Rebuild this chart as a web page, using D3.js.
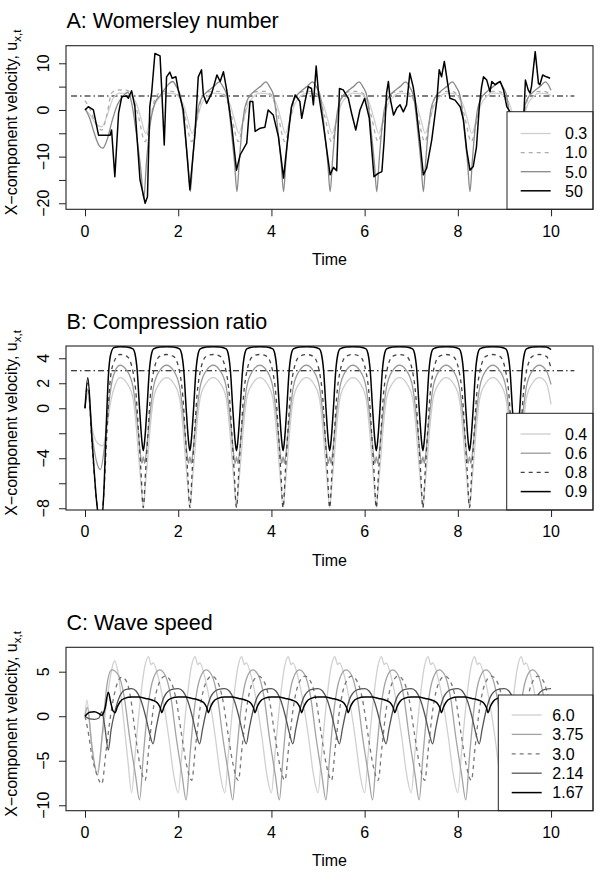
<!DOCTYPE html>
<html>
<head>
<meta charset="utf-8">
<script src="https://cdn.jsdelivr.net/npm/d3@7"></script>
<style>
body { margin: 0; background: #fff; }
svg text { font-family: "Liberation Sans", Arial, Helvetica, sans-serif; fill: #000; }
</style>
</head>
<body>
<div id="chart"></div>
<script>
// shared
var xTicks = [0, 2, 4, 6, 8, 10];
var refTimes = [-0.3, 10.5];
var refLevel = 3;

// A: Womersley number
var aLabels = ["0.3", "1.0", "5.0", "50"];
var aTicks = [-20, -15, -10, -5, 0, 5, 10];
var aTickLabels = [-20, -10, 0, 10];
var a03 = [[0,0.3],[0.12,-1.2],[0.25,-3.2],[0.36,-3.6],[0.48,-1.0],[0.6,2.4],[0.75,3.6],[0.9,3.5],
  [1.1,1.5],[1.2,-1.8],[1.3,-5.0],[1.4,-2.0],[1.5,1.2],[1.62,2.9],[1.75,3.6],[1.9,3.5],
  [2.1,1.5],[2.2,-1.8],[2.3,-5.0],[2.4,-2.0],[2.5,1.2],[2.62,2.9],[2.75,3.6],[2.9,3.5],
  [3.1,1.5],[3.2,-1.8],[3.3,-5.0],[3.4,-2.0],[3.5,1.2],[3.62,2.9],[3.75,3.6],[3.9,3.5],
  [4.1,1.5],[4.2,-1.8],[4.3,-5.0],[4.4,-2.0],[4.5,1.2],[4.62,2.9],[4.75,3.6],[4.9,3.5],
  [5.1,1.5],[5.2,-1.8],[5.3,-5.0],[5.4,-2.0],[5.5,1.2],[5.62,2.9],[5.75,3.6],[5.9,3.5],
  [6.1,1.5],[6.2,-1.8],[6.3,-5.0],[6.4,-2.0],[6.5,1.2],[6.62,2.9],[6.75,3.6],[6.9,3.5],
  [7.1,1.5],[7.2,-1.8],[7.3,-5.0],[7.4,-2.0],[7.5,1.2],[7.62,2.9],[7.75,3.6],[7.9,3.5],
  [8.1,1.5],[8.2,-1.8],[8.3,-5.0],[8.4,-2.0],[8.5,1.2],[8.62,2.9],[8.75,3.6],[8.9,3.5],
  [9.1,1.5],[9.2,-1.8],[9.3,-5.0],[9.4,-2.0],[9.5,1.2],[9.62,2.9],[9.75,3.6],[9.9,3.5],[10,3.2]];
var a10 = [[0,2.0],[0.1,0.3],[0.22,-2.6],[0.36,-4.3],[0.47,-1.0],[0.57,3.6],[0.7,4.3],[0.9,4.2],[1.0,3.4],
  [1.14,-1.2],[1.29,-6.8],[1.4,-2.4],[1.5,2.4],[1.65,3.9],[1.85,4.0],[2.0,3.2],
  [2.14,-1.2],[2.29,-6.8],[2.4,-2.4],[2.5,2.4],[2.65,3.9],[2.85,4.0],[3.0,3.2],
  [3.14,-1.2],[3.29,-6.8],[3.4,-2.4],[3.5,2.4],[3.65,3.9],[3.85,4.0],[4.0,3.2],
  [4.14,-1.2],[4.29,-6.8],[4.4,-2.4],[4.5,2.4],[4.65,3.9],[4.85,4.0],[5.0,3.2],
  [5.14,-1.2],[5.29,-6.8],[5.4,-2.4],[5.5,2.4],[5.65,3.9],[5.85,4.0],[6.0,3.2],
  [6.14,-1.2],[6.29,-6.8],[6.4,-2.4],[6.5,2.4],[6.65,3.9],[6.85,4.0],[7.0,3.2],
  [7.14,-1.2],[7.29,-6.8],[7.4,-2.4],[7.5,2.4],[7.65,3.9],[7.85,4.0],[8.0,3.2],
  [8.14,-1.2],[8.29,-6.8],[8.4,-2.4],[8.5,2.4],[8.65,3.9],[8.85,4.0],[9.0,3.2],
  [9.14,-1.2],[9.29,-6.8],[9.4,-2.4],[9.5,2.4],[9.65,3.9],[9.85,4.0],[10.0,3.2]];
var a5 = [[0,0.3],[0.1,-1.8],[0.2,-5.0],[0.3,-7.6],[0.38,-8.2],[0.48,-6.2],[0.58,-2.4],[0.7,1.2],[0.82,3.0],[0.92,3.8],
  [1.0,1.5],[1.1,-5.0],[1.2,-13.0],[1.26,-19.0],[1.32,-11.0],[1.4,-3.0],[1.5,1.5],[1.62,3.2],[1.75,5.0],[1.88,6.1],[1.96,5.0],
  [2.05,2.9],[2.15,-5.5],[2.21,-11.5],[2.26,-17.5],[2.31,-11.0],[2.36,-5.0],[2.42,0],[2.5,2.5],[2.61,3.8],[2.76,5.0],[2.88,6.0],[2.96,5.0],
  [3.05,2.9],[3.15,-5.5],[3.21,-11.5],[3.26,-17.5],[3.31,-11.0],[3.36,-5.0],[3.42,0],[3.5,2.5],[3.61,3.8],[3.76,5.0],[3.88,6.0],[3.96,5.0],
  [4.05,2.9],[4.15,-5.5],[4.21,-11.5],[4.26,-17.5],[4.31,-11.0],[4.36,-5.0],[4.42,0],[4.5,2.5],[4.61,3.8],[4.76,5.0],[4.88,6.0],[4.96,5.0],
  [5.05,2.9],[5.15,-5.5],[5.21,-11.5],[5.26,-17.5],[5.31,-11.0],[5.36,-5.0],[5.42,0],[5.5,2.5],[5.61,3.8],[5.76,5.0],[5.88,6.0],[5.96,5.0],
  [6.05,2.9],[6.15,-5.5],[6.21,-11.5],[6.26,-17.5],[6.31,-11.0],[6.36,-5.0],[6.42,0],[6.5,2.5],[6.61,3.8],[6.76,5.0],[6.88,6.0],[6.96,5.0],
  [7.05,2.9],[7.15,-5.5],[7.21,-11.5],[7.26,-17.5],[7.31,-11.0],[7.36,-5.0],[7.42,0],[7.5,2.5],[7.61,3.8],[7.76,5.0],[7.88,6.0],[7.96,5.0],
  [8.05,2.9],[8.15,-5.5],[8.21,-11.5],[8.26,-17.5],[8.31,-11.0],[8.36,-5.0],[8.42,0],[8.5,2.5],[8.61,3.8],[8.76,5.0],[8.88,6.0],[8.96,5.0],
  [9.05,2.9],[9.15,-5.5],[9.21,-11.5],[9.26,-17.5],[9.31,-11.0],[9.36,-5.0],[9.42,0],[9.5,2.5],[9.61,3.8],[9.76,5.0],[9.88,6.0],[10,4.2]];
var a50 = [[0,0],[0.07,0.7],[0.18,0],[0.29,-5.4],[0.54,-5.4],[0.57,-4.3],[0.64,-14.3],[0.72,-0.7],[0.79,2.9],[0.89,3],[0.93,2.5],
  [1.0,4.1],[1.07,0.7],[1.18,-15],[1.29,-20],[1.34,-18.6],[1.39,0.7],[1.43,3.7],[1.5,12.1],[1.61,11.6],[1.65,3.6],[1.7,-7.5],
  [1.75,7.1],[1.82,8.1],[1.87,6.8],[1.95,7.1],[2.0,4.3],[2.11,0],[2.25,-17.1],[2.36,-5],[2.43,7.1],[2.5,8.6],[2.54,3.2],
  [2.61,1.4],[2.72,3.6],[2.83,7.5],[2.9,6.1],[2.97,8.2],[3.04,4.3],[3.15,-3.6],[3.25,-12.9],[3.33,-9.6],[3.47,-7.1],[3.54,1.8],
  [3.6,1.8],[3.65,-4.6],[3.76,-3.9],[3.86,-3.7],[3.93,0],[4.04,-1.1],[4.15,-5.7],[4.26,-14.6],[4.33,-7.9],[4.43,0.7],[4.51,3.2],
  [4.61,1.8],[4.65,-1.8],[4.72,1.8],[4.79,5],[4.86,4.6],[4.9,1.1],[4.96,9.4],[5.01,3.6],[5.11,-2.9],[5.26,-13.9],[5.33,-12.3],
  [5.4,-13],[5.46,4.6],[5.54,4.3],[5.65,2.5],[5.72,-0.7],[5.81,-4.3],[5.9,0],[6.0,2.5],[6.1,-1.8],[6.2,-14.3],[6.29,-13.6],
  [6.37,-13.2],[6.42,-6.4],[6.47,3.6],[6.51,6.1],[6.54,2.9],[6.62,-1.1],[6.69,0.4],[6.76,1.1],[6.83,-0.4],[6.9,1.1],[6.97,7.9],
  [7.04,5],[7.08,2.5],[7.19,-7.1],[7.26,-13.9],[7.33,-12.5],[7.44,-6.4],[7.55,2.1],[7.6,8.6],[7.65,7.1],[7.71,10.4],[7.76,7.1],
  [7.83,2.5],[7.94,2.1],[8.05,0.7],[8.12,-2.1],[8.19,-8.6],[8.26,-12.9],[8.33,-12.1],[8.4,-7.9],[8.46,0.7],[8.51,5],[8.55,7.1],
  [8.62,6.4],[8.69,3.9],[8.73,6.1],[8.8,5.4],[8.91,6.1],[8.98,4.3],[9.05,0.7],[9.12,-0.4],[9.2,-6],[9.26,-13],[9.33,-8],
  [9.42,-0.4],[9.45,6.4],[9.51,4.3],[9.55,3.6],[9.58,5],[9.66,12.5],[9.73,5.7],[9.76,5.4],[9.82,7.5],[9.9,7.1],[9.98,6.8]];

// B: Compression ratio
var bLabels = ["0.4", "0.6", "0.8", "0.9"];
var bTicks = [-8, -6, -4, -2, 0, 2, 4];
var bTickLabels = [-8, -4, 0, 2, 4];
var b04 = [[0,0],[0.06,1.2],[0.15,-1.5],[0.27,-2.8],[0.38,-3.0],[0.47,-1.5],[0.55,0.5],[0.65,1.9],[0.75,2.45],[0.9,2.0],
  [1.03,0.8],[1.1,-1.5],[1.15,-3.8],[1.2,-6.0],[1.25,-7.95],[1.3,-6.0],[1.35,-3.8],[1.4,-1.5],[1.47,0.8],[1.6,2.0],[1.75,2.45],[1.9,2.0],
  [2.03,0.8],[2.1,-1.5],[2.15,-3.8],[2.2,-6.0],[2.25,-7.95],[2.3,-6.0],[2.35,-3.8],[2.4,-1.5],[2.47,0.8],[2.6,2.0],[2.75,2.45],[2.9,2.0],
  [3.03,0.8],[3.1,-1.5],[3.15,-3.8],[3.2,-6.0],[3.25,-7.95],[3.3,-6.0],[3.35,-3.8],[3.4,-1.5],[3.47,0.8],[3.6,2.0],[3.75,2.45],[3.9,2.0],
  [4.03,0.8],[4.1,-1.5],[4.15,-3.8],[4.2,-6.0],[4.25,-7.95],[4.3,-6.0],[4.35,-3.8],[4.4,-1.5],[4.47,0.8],[4.6,2.0],[4.75,2.45],[4.9,2.0],
  [5.03,0.8],[5.1,-1.5],[5.15,-3.8],[5.2,-6.0],[5.25,-7.95],[5.3,-6.0],[5.35,-3.8],[5.4,-1.5],[5.47,0.8],[5.6,2.0],[5.75,2.45],[5.9,2.0],
  [6.03,0.8],[6.1,-1.5],[6.15,-3.8],[6.2,-6.0],[6.25,-7.95],[6.3,-6.0],[6.35,-3.8],[6.4,-1.5],[6.47,0.8],[6.6,2.0],[6.75,2.45],[6.9,2.0],
  [7.03,0.8],[7.1,-1.5],[7.15,-3.8],[7.2,-6.0],[7.25,-7.95],[7.3,-6.0],[7.35,-3.8],[7.4,-1.5],[7.47,0.8],[7.6,2.0],[7.75,2.45],[7.9,2.0],
  [8.03,0.8],[8.1,-1.5],[8.15,-3.8],[8.2,-6.0],[8.25,-7.95],[8.3,-6.0],[8.35,-3.8],[8.4,-1.5],[8.47,0.8],[8.6,2.0],[8.75,2.45],[8.9,2.0],
  [9.03,0.8],[9.1,-1.5],[9.15,-3.8],[9.2,-6.0],[9.25,-7.95],[9.3,-6.0],[9.35,-3.8],[9.4,-1.5],[9.47,0.8],[9.6,2.0],[9.75,2.45],[9.9,2.0],[10,0.3]];
var b06 = [[0,0],[0.06,1.5],[0.15,-2.0],[0.25,-4.3],[0.33,-4.9],[0.42,-3.0],[0.5,0],[0.6,2.5],[0.75,3.44],[0.9,3.0],
  [1.03,1.7],[1.1,-0.3],[1.15,-2.2],[1.2,-4.0],[1.22,-4.4],[1.25,-3.9],[1.28,-4.4],[1.3,-4.0],[1.35,-2.2],[1.4,-0.3],[1.47,1.7],[1.6,3.0],[1.75,3.44],[1.9,3.0],
  [2.03,1.7],[2.1,-0.3],[2.15,-2.2],[2.2,-4.0],[2.22,-4.4],[2.25,-3.9],[2.28,-4.4],[2.3,-4.0],[2.35,-2.2],[2.4,-0.3],[2.47,1.7],[2.6,3.0],[2.75,3.44],[2.9,3.0],
  [3.03,1.7],[3.1,-0.3],[3.15,-2.2],[3.2,-4.0],[3.22,-4.4],[3.25,-3.9],[3.28,-4.4],[3.3,-4.0],[3.35,-2.2],[3.4,-0.3],[3.47,1.7],[3.6,3.0],[3.75,3.44],[3.9,3.0],
  [4.03,1.7],[4.1,-0.3],[4.15,-2.2],[4.2,-4.0],[4.22,-4.4],[4.25,-3.9],[4.28,-4.4],[4.3,-4.0],[4.35,-2.2],[4.4,-0.3],[4.47,1.7],[4.6,3.0],[4.75,3.44],[4.9,3.0],
  [5.03,1.7],[5.1,-0.3],[5.15,-2.2],[5.2,-4.0],[5.22,-4.4],[5.25,-3.9],[5.28,-4.4],[5.3,-4.0],[5.35,-2.2],[5.4,-0.3],[5.47,1.7],[5.6,3.0],[5.75,3.44],[5.9,3.0],
  [6.03,1.7],[6.1,-0.3],[6.15,-2.2],[6.2,-4.0],[6.22,-4.4],[6.25,-3.9],[6.28,-4.4],[6.3,-4.0],[6.35,-2.2],[6.4,-0.3],[6.47,1.7],[6.6,3.0],[6.75,3.44],[6.9,3.0],
  [7.03,1.7],[7.1,-0.3],[7.15,-2.2],[7.2,-4.0],[7.22,-4.4],[7.25,-3.9],[7.28,-4.4],[7.3,-4.0],[7.35,-2.2],[7.4,-0.3],[7.47,1.7],[7.6,3.0],[7.75,3.44],[7.9,3.0],
  [8.03,1.7],[8.1,-0.3],[8.15,-2.2],[8.2,-4.0],[8.22,-4.4],[8.25,-3.9],[8.28,-4.4],[8.3,-4.0],[8.35,-2.2],[8.4,-0.3],[8.47,1.7],[8.6,3.0],[8.75,3.44],[8.9,3.0],
  [9.03,1.7],[9.1,-0.3],[9.15,-2.2],[9.2,-4.0],[9.22,-4.4],[9.25,-3.9],[9.28,-4.4],[9.3,-4.0],[9.35,-2.2],[9.4,-0.3],[9.47,1.7],[9.6,3.0],[9.75,3.44],[9.9,3.0],[10,1.9]];
var b08 = [[0,0],[0.06,2.0],[0.15,-2.8],[0.25,-7.5],[0.33,-9.5],[0.4,-7.0],[0.47,-2.0],[0.53,1.8],[0.6,3.5],[0.75,4.3],[0.9,4.15],
  [1.03,2.9],[1.1,0.9],[1.15,-2.0],[1.2,-5.0],[1.25,-7.95],[1.3,-5.0],[1.35,-2.0],[1.4,0.9],[1.47,2.9],[1.6,4.15],[1.75,4.3],[1.9,4.15],
  [2.03,2.9],[2.1,0.9],[2.15,-2.0],[2.2,-5.0],[2.25,-7.95],[2.3,-5.0],[2.35,-2.0],[2.4,0.9],[2.47,2.9],[2.6,4.15],[2.75,4.3],[2.9,4.15],
  [3.03,2.9],[3.1,0.9],[3.15,-2.0],[3.2,-5.0],[3.25,-7.95],[3.3,-5.0],[3.35,-2.0],[3.4,0.9],[3.47,2.9],[3.6,4.15],[3.75,4.3],[3.9,4.15],
  [4.03,2.9],[4.1,0.9],[4.15,-2.0],[4.2,-5.0],[4.25,-7.95],[4.3,-5.0],[4.35,-2.0],[4.4,0.9],[4.47,2.9],[4.6,4.15],[4.75,4.3],[4.9,4.15],
  [5.03,2.9],[5.1,0.9],[5.15,-2.0],[5.2,-5.0],[5.25,-7.95],[5.3,-5.0],[5.35,-2.0],[5.4,0.9],[5.47,2.9],[5.6,4.15],[5.75,4.3],[5.9,4.15],
  [6.03,2.9],[6.1,0.9],[6.15,-2.0],[6.2,-5.0],[6.25,-7.95],[6.3,-5.0],[6.35,-2.0],[6.4,0.9],[6.47,2.9],[6.6,4.15],[6.75,4.3],[6.9,4.15],
  [7.03,2.9],[7.1,0.9],[7.15,-2.0],[7.2,-5.0],[7.25,-7.95],[7.3,-5.0],[7.35,-2.0],[7.4,0.9],[7.47,2.9],[7.6,4.15],[7.75,4.3],[7.9,4.15],
  [8.03,2.9],[8.1,0.9],[8.15,-2.0],[8.2,-5.0],[8.25,-7.95],[8.3,-5.0],[8.35,-2.0],[8.4,0.9],[8.47,2.9],[8.6,4.15],[8.75,4.3],[8.9,4.15],
  [9.03,2.9],[9.1,0.9],[9.15,-2.0],[9.2,-5.0],[9.25,-7.95],[9.3,-5.0],[9.35,-2.0],[9.4,0.9],[9.47,2.9],[9.6,4.15],[9.75,4.3],[9.9,4.15],[10,3.2]];
var b09 = [[0,0],[0.06,2.45],[0.15,-2.5],[0.25,-7.5],[0.33,-9.5],[0.4,-7.0],[0.46,-1.0],[0.5,2.5],[0.55,4.3],[0.62,4.85],[0.75,4.93],[0.9,4.9],
  [1.03,4.75],[1.07,4.4],[1.12,3.0],[1.17,0],[1.22,-2.6],[1.25,-3.4],[1.28,-2.6],[1.33,0],[1.38,3.0],[1.43,4.4],[1.47,4.75],[1.6,4.9],[1.75,4.93],[1.9,4.9],
  [2.03,4.75],[2.07,4.4],[2.12,3.0],[2.17,0],[2.22,-2.6],[2.25,-3.4],[2.28,-2.6],[2.33,0],[2.38,3.0],[2.43,4.4],[2.47,4.75],[2.6,4.9],[2.75,4.93],[2.9,4.9],
  [3.03,4.75],[3.07,4.4],[3.12,3.0],[3.17,0],[3.22,-2.6],[3.25,-3.4],[3.28,-2.6],[3.33,0],[3.38,3.0],[3.43,4.4],[3.47,4.75],[3.6,4.9],[3.75,4.93],[3.9,4.9],
  [4.03,4.75],[4.07,4.4],[4.12,3.0],[4.17,0],[4.22,-2.6],[4.25,-3.4],[4.28,-2.6],[4.33,0],[4.38,3.0],[4.43,4.4],[4.47,4.75],[4.6,4.9],[4.75,4.93],[4.9,4.9],
  [5.03,4.75],[5.07,4.4],[5.12,3.0],[5.17,0],[5.22,-2.6],[5.25,-3.4],[5.28,-2.6],[5.33,0],[5.38,3.0],[5.43,4.4],[5.47,4.75],[5.6,4.9],[5.75,4.93],[5.9,4.9],
  [6.03,4.75],[6.07,4.4],[6.12,3.0],[6.17,0],[6.22,-2.6],[6.25,-3.4],[6.28,-2.6],[6.33,0],[6.38,3.0],[6.43,4.4],[6.47,4.75],[6.6,4.9],[6.75,4.93],[6.9,4.9],
  [7.03,4.75],[7.07,4.4],[7.12,3.0],[7.17,0],[7.22,-2.6],[7.25,-3.4],[7.28,-2.6],[7.33,0],[7.38,3.0],[7.43,4.4],[7.47,4.75],[7.6,4.9],[7.75,4.93],[7.9,4.9],
  [8.03,4.75],[8.07,4.4],[8.12,3.0],[8.17,0],[8.22,-2.6],[8.25,-3.4],[8.28,-2.6],[8.33,0],[8.38,3.0],[8.43,4.4],[8.47,4.75],[8.6,4.9],[8.75,4.93],[8.9,4.9],
  [9.03,4.75],[9.07,4.4],[9.12,3.0],[9.17,0],[9.22,-2.6],[9.25,-3.4],[9.28,-2.6],[9.33,0],[9.38,3.0],[9.43,4.4],[9.47,4.75],[9.6,4.9],[9.75,4.93],[9.9,4.9],[10,4.7]];

// C: Wave speed
var cLabels = ["6.0", "3.75", "3.0", "2.14", "1.67"];
var cTicks = [-10, -5, 0, 5];
var cTickLabels = [-10, -5, 0, 5];
var c60 = [[0,0],[0.04,1.8],[0.12,-2.0],[0.25,-6.4],[0.38,-2.0],[0.5,3.0],[0.64,6.2],[0.72,4.5],[0.82,0],[0.92,-5.0],
  [1,-8.6],[1.08,-4.0],[1.18,1.5],[1.28,5.5],[1.36,6.7],[1.42,5.8],[1.46,6.0],[1.58,4.2],[1.7,1.0],[1.8,-2.5],[1.9,-6.5],
  [2,-8.6],[2.08,-4.0],[2.18,1.5],[2.28,5.5],[2.36,6.7],[2.42,5.8],[2.46,6.0],[2.58,4.2],[2.7,1.0],[2.8,-2.5],[2.9,-6.5],
  [3,-8.6],[3.08,-4.0],[3.18,1.5],[3.28,5.5],[3.36,6.7],[3.42,5.8],[3.46,6.0],[3.58,4.2],[3.7,1.0],[3.8,-2.5],[3.9,-6.5],
  [4,-8.6],[4.08,-4.0],[4.18,1.5],[4.28,5.5],[4.36,6.7],[4.42,5.8],[4.46,6.0],[4.58,4.2],[4.7,1.0],[4.8,-2.5],[4.9,-6.5],
  [5,-8.6],[5.08,-4.0],[5.18,1.5],[5.28,5.5],[5.36,6.7],[5.42,5.8],[5.46,6.0],[5.58,4.2],[5.7,1.0],[5.8,-2.5],[5.9,-6.5],
  [6,-8.6],[6.08,-4.0],[6.18,1.5],[6.28,5.5],[6.36,6.7],[6.42,5.8],[6.46,6.0],[6.58,4.2],[6.7,1.0],[6.8,-2.5],[6.9,-6.5],
  [7,-8.6],[7.08,-4.0],[7.18,1.5],[7.28,5.5],[7.36,6.7],[7.42,5.8],[7.46,6.0],[7.58,4.2],[7.7,1.0],[7.8,-2.5],[7.9,-6.5],
  [8,-8.6],[8.08,-4.0],[8.18,1.5],[8.28,5.5],[8.36,6.7],[8.42,5.8],[8.46,6.0],[8.58,4.2],[8.7,1.0],[8.8,-2.5],[8.9,-6.5],
  [9,-8.6],[9.08,-4.0],[9.18,1.5],[9.28,5.5],[9.36,6.7],[9.42,5.8],[9.46,6.0],[9.58,4.2],[9.7,1.0],[9.8,-2.5],[9.9,-6.5],[10,-8.6]];
var c375 = [[0,0],[0.05,1.0],[0.15,-3.5],[0.27,-6.6],[0.37,-2.0],[0.47,3.5],[0.57,5.2],[0.72,4.6],[0.84,2.2],[0.96,-2.5],[1.08,-6.5],
  [1.17,-9.4],[1.25,-4.5],[1.35,1.0],[1.47,4.3],[1.6,5.2],[1.72,4.6],[1.84,2.2],[1.96,-2.5],[2.08,-6.5],
  [2.17,-9.4],[2.25,-4.5],[2.35,1.0],[2.47,4.3],[2.6,5.2],[2.72,4.6],[2.84,2.2],[2.96,-2.5],[3.08,-6.5],
  [3.17,-9.4],[3.25,-4.5],[3.35,1.0],[3.47,4.3],[3.6,5.2],[3.72,4.6],[3.84,2.2],[3.96,-2.5],[4.08,-6.5],
  [4.17,-9.4],[4.25,-4.5],[4.35,1.0],[4.47,4.3],[4.6,5.2],[4.72,4.6],[4.84,2.2],[4.96,-2.5],[5.08,-6.5],
  [5.17,-9.4],[5.25,-4.5],[5.35,1.0],[5.47,4.3],[5.6,5.2],[5.72,4.6],[5.84,2.2],[5.96,-2.5],[6.08,-6.5],
  [6.17,-9.4],[6.25,-4.5],[6.35,1.0],[6.47,4.3],[6.6,5.2],[6.72,4.6],[6.84,2.2],[6.96,-2.5],[7.08,-6.5],
  [7.17,-9.4],[7.25,-4.5],[7.35,1.0],[7.47,4.3],[7.6,5.2],[7.72,4.6],[7.84,2.2],[7.96,-2.5],[8.08,-6.5],
  [8.17,-9.4],[8.25,-4.5],[8.35,1.0],[8.47,4.3],[8.6,5.2],[8.72,4.6],[8.84,2.2],[8.96,-2.5],[9.08,-6.5],
  [9.17,-9.4],[9.25,-4.5],[9.35,1.0],[9.47,4.3],[9.6,5.2],[9.72,4.6],[9.84,2.2],[9.96,-2.5],[10,-4.0]];
var c30 = [[0,0],[0.06,-1.5],[0.15,-4.5],[0.25,-6.5],[0.36,-7.6],[0.45,-4.0],[0.56,0.5],[0.68,3.5],[0.79,4.4],[0.9,3.8],[0.98,2.0],[1.08,-2.0],[1.18,-5.5],
  [1.29,-7.2],[1.37,-3.5],[1.47,1.0],[1.58,3.6],[1.72,4.5],[1.85,3.8],[1.95,2.0],[2.07,-2.0],[2.18,-5.5],
  [2.29,-7.2],[2.37,-3.5],[2.47,1.0],[2.58,3.6],[2.72,4.5],[2.85,3.8],[2.95,2.0],[3.07,-2.0],[3.18,-5.5],
  [3.29,-7.2],[3.37,-3.5],[3.47,1.0],[3.58,3.6],[3.72,4.5],[3.85,3.8],[3.95,2.0],[4.07,-2.0],[4.18,-5.5],
  [4.29,-7.2],[4.37,-3.5],[4.47,1.0],[4.58,3.6],[4.72,4.5],[4.85,3.8],[4.95,2.0],[5.07,-2.0],[5.18,-5.5],
  [5.29,-7.2],[5.37,-3.5],[5.47,1.0],[5.58,3.6],[5.72,4.5],[5.85,3.8],[5.95,2.0],[6.07,-2.0],[6.18,-5.5],
  [6.29,-7.2],[6.37,-3.5],[6.47,1.0],[6.58,3.6],[6.72,4.5],[6.85,3.8],[6.95,2.0],[7.07,-2.0],[7.18,-5.5],
  [7.29,-7.2],[7.37,-3.5],[7.47,1.0],[7.58,3.6],[7.72,4.5],[7.85,3.8],[7.95,2.0],[8.07,-2.0],[8.18,-5.5],
  [8.29,-7.2],[8.37,-3.5],[8.47,1.0],[8.58,3.6],[8.72,4.5],[8.85,3.8],[8.95,2.0],[9.07,-2.0],[9.18,-5.5],
  [9.29,-7.2],[9.37,-3.5],[9.47,1.0],[9.58,3.6],[9.72,4.5],[9.85,3.8],[9.95,2.0],[10,1.2]];
var c214 = [[0,0],[0.1,-0.3],[0.2,-0.35],[0.3,-0.2],[0.36,0.5],[0.42,-1.0],[0.5,-3.8],[0.56,-1.5],[0.64,0.5],[0.74,2.2],[0.87,3.0],
  [1,3.1],[1.1,2.8],[1.2,1.8],[1.3,0],[1.38,-1.8],[1.46,-3.1],[1.52,-1.5],[1.6,0.5],[1.7,2.2],[1.85,3.0],
  [2,3.1],[2.1,2.8],[2.2,1.8],[2.3,0],[2.38,-1.8],[2.46,-3.1],[2.52,-1.5],[2.6,0.5],[2.7,2.2],[2.85,3.0],
  [3,3.1],[3.1,2.8],[3.2,1.8],[3.3,0],[3.38,-1.8],[3.46,-3.1],[3.52,-1.5],[3.6,0.5],[3.7,2.2],[3.85,3.0],
  [4,3.1],[4.1,2.8],[4.2,1.8],[4.3,0],[4.38,-1.8],[4.46,-3.1],[4.52,-1.5],[4.6,0.5],[4.7,2.2],[4.85,3.0],
  [5,3.1],[5.1,2.8],[5.2,1.8],[5.3,0],[5.38,-1.8],[5.46,-3.1],[5.52,-1.5],[5.6,0.5],[5.7,2.2],[5.85,3.0],
  [6,3.1],[6.1,2.8],[6.2,1.8],[6.3,0],[6.38,-1.8],[6.46,-3.1],[6.52,-1.5],[6.6,0.5],[6.7,2.2],[6.85,3.0],
  [7,3.1],[7.1,2.8],[7.2,1.8],[7.3,0],[7.38,-1.8],[7.46,-3.1],[7.52,-1.5],[7.6,0.5],[7.7,2.2],[7.85,3.0],
  [8,3.1],[8.1,2.8],[8.2,1.8],[8.3,0],[8.38,-1.8],[8.46,-3.1],[8.52,-1.5],[8.6,0.5],[8.7,2.2],[8.85,3.0],
  [9,3.1],[9.1,2.8],[9.2,1.8],[9.3,0],[9.38,-1.8],[9.46,-3.1],[9.52,-1.5],[9.6,0.5],[9.7,2.2],[9.85,3.0],[10,3.1]];
var c167 = [[0,0],[0.1,0.45],[0.2,0.5],[0.3,0.3],[0.36,0.1],[0.43,0.9],[0.5,2.7],[0.55,1.6],[0.6,0.6],
  [0.65,0.4],[0.69,1.0],[0.75,1.6],[0.85,2.0],[1.0,2.15],[1.15,2.15],[1.3,2.0],[1.45,1.8],[1.55,1.5],[1.61,1.0],
  [1.65,0.4],[1.69,1.0],[1.75,1.6],[1.85,2.0],[2.0,2.15],[2.15,2.15],[2.3,2.0],[2.45,1.8],[2.55,1.5],[2.61,1.0],
  [2.65,0.4],[2.69,1.0],[2.75,1.6],[2.85,2.0],[3.0,2.15],[3.15,2.15],[3.3,2.0],[3.45,1.8],[3.55,1.5],[3.61,1.0],
  [3.65,0.4],[3.69,1.0],[3.75,1.6],[3.85,2.0],[4.0,2.15],[4.15,2.15],[4.3,2.0],[4.45,1.8],[4.55,1.5],[4.61,1.0],
  [4.65,0.4],[4.69,1.0],[4.75,1.6],[4.85,2.0],[5.0,2.15],[5.15,2.15],[5.3,2.0],[5.45,1.8],[5.55,1.5],[5.61,1.0],
  [5.65,0.4],[5.69,1.0],[5.75,1.6],[5.85,2.0],[6.0,2.15],[6.15,2.15],[6.3,2.0],[6.45,1.8],[6.55,1.5],[6.61,1.0],
  [6.65,0.4],[6.69,1.0],[6.75,1.6],[6.85,2.0],[7.0,2.15],[7.15,2.15],[7.3,2.0],[7.45,1.8],[7.55,1.5],[7.61,1.0],
  [7.65,0.4],[7.69,1.0],[7.75,1.6],[7.85,2.0],[8.0,2.15],[8.15,2.15],[8.3,2.0],[8.45,1.8],[8.55,1.5],[8.61,1.0],
  [8.65,0.4],[8.69,1.0],[8.75,1.6],[8.85,2.0],[9.0,2.15],[9.15,2.15],[9.3,2.0],[9.45,1.8],[9.55,1.5],[9.61,1.0],
  [9.65,0.4],[9.69,1.0],[9.75,1.6],[9.85,2.0],[10,2.15]];

WaveChart = {
    w : 600,
    h : 890,
    left : 66,
    right : 593,
    svg : null,
    init : function(divName) {
        d3.selectAll(divName + ' svg').remove(); // clean
        this.svg = d3.select(divName)
            .append("svg")
            .attr("width", this.w)
            .attr("height", this.h);
        this.svg.append("rect")
            .attr("width", this.w).attr("height", this.h).attr("fill", "#fff");
        return this;
    },

    drawPanel : function(p) {
        var self = this;
        var svg = this.svg;
        var x = d3.scaleLinear().domain([-0.408, 10.9]).range([self.left, self.right]);
        var y = d3.scaleLinear().domain(p.yDomain).range([p.bottom, p.top]);

        // clip lines to the plot box
        var clipId = "clip-" + p.id;
        svg.append("clipPath").attr("id", clipId)
            .append("rect")
            .attr("x", self.left).attr("y", p.top)
            .attr("width", self.right - self.left).attr("height", p.bottom - p.top);

        var lines = svg.append("g").attr("clip-path", "url(#" + clipId + ")");
        var line = d3.line().x(function(d) { return x(d[0]); }).y(function(d) { return y(d[1]); });

        // reference level
        if (p.ref) {
            lines.append("path")
                .datum(refTimes.map(function(t) { return [t, refLevel]; }))
                .attr("d", line.curve(d3.curveLinear))
                .attr("fill", "none")
                .attr("stroke", "#000")
                .attr("stroke-width", 1.1)
                .attr("stroke-dasharray", "6,3,1.5,3");
        }

        // series
        p.series.forEach(function(s) {
            lines.append("path")
                .datum(s.data)
                .attr("d", line.curve(s.jagged ? d3.curveLinear : d3.curveMonotoneX))
                .attr("fill", "none")
                .attr("stroke", s.color)
                .attr("stroke-width", s.width || 1.3)
                .attr("stroke-linejoin", "round")
                .attr("stroke-dasharray", s.dash || null);
        });

        // axes (ticks only, labels drawn by hand like R)
        var xAxis = svg.append("g")
            .attr("transform", "translate(0," + p.bottom + ")")
            .call(d3.axisBottom(x).tickValues(xTicks).tickSize(7).tickSizeOuter(0).tickFormat(""));
        var yAxis = svg.append("g")
            .attr("transform", "translate(" + self.left + ",0)")
            .call(d3.axisLeft(y).tickValues(p.ticks).tickSize(7).tickSizeOuter(0).tickFormat(""));
        [xAxis, yAxis].forEach(function(a) {
            a.select(".domain").remove();
            a.selectAll("line").attr("stroke", "#222").attr("stroke-width", 1);
        });

        svg.append("g").selectAll("text")
            .data(xTicks).enter().append("text")
            .attr("x", function(d) { return x(d); })
            .attr("y", p.bottom + 27.4)
            .attr("text-anchor", "middle")
            .style("font-size", "16px")
            .text(function(d) { return d; });

        svg.append("g").selectAll("text")
            .data(p.tickLabels).enter().append("text")
            .attr("transform", function(d) { return "translate(49.3," + y(d) + ") rotate(-90)"; })
            .attr("text-anchor", "middle")
            .style("font-size", "16px")
            .text(function(d) { return d < 0 ? "\u2212" + Math.abs(d) : d; });

        // axis titles
        svg.append("text")
            .attr("x", (self.left + self.right) / 2)
            .attr("y", p.bottom + 55.7)
            .attr("text-anchor", "middle")
            .style("font-size", "16px")
            .text("Time");

        var ylab = svg.append("text")
            .attr("transform", "translate(17.3," + ((p.top + p.bottom) / 2 - 5) + ") rotate(-90)")
            .attr("text-anchor", "middle")
            .style("font-size", "16px");
        ylab.append("tspan").text("X\u2212component velocity, u");
        ylab.append("tspan").attr("dy", 3.5).style("font-size", "11.5px").text("x,t");

        // panel title
        svg.append("text")
            .attr("x", 66.5)
            .attr("y", p.top - 17.4)
            .style("font-size", "21.5px")
            .text(p.title);

        // legend
        var lg = p.legend;
        var leg = svg.append("g");
        leg.append("rect")
            .attr("x", lg.x).attr("y", lg.y)
            .attr("width", self.right - lg.x).attr("height", p.bottom - lg.y)
            .attr("fill", "#fff").attr("stroke", "#222").attr("stroke-width", 1);
        p.series.forEach(function(s, i) {
            var ry = lg.row0 + i * lg.step;
            leg.append("line")
                .attr("x1", lg.lineX0).attr("x2", lg.lineX0 + 30)
                .attr("y1", ry).attr("y2", ry)
                .attr("stroke", s.color)
                .attr("stroke-width", s.width || 1.3)
                .attr("stroke-dasharray", s.dash || null);
            leg.append("text")
                .attr("x", lg.textX).attr("y", ry + 5.8)
                .style("font-size", "16px")
                .text(p.labels[i]);
        });

        // plot box
        svg.append("rect")
            .attr("x", self.left).attr("y", p.top)
            .attr("width", self.right - self.left).attr("height", p.bottom - p.top)
            .attr("fill", "none").attr("stroke", "#222").attr("stroke-width", 1.1);
    }
};

var chart = WaveChart.init("#chart");

chart.drawPanel({
    id : "a", title : "A: Womersley number",
    top : 45.7, bottom : 209.3, yDomain : [-21.29, 13.77],
    ticks : aTicks, tickLabels : aTickLabels, labels : aLabels, ref : true,
    legend : { x : 507, y : 111.7, lineX0 : 520.7, textX : 565, row0 : 133.5, step : 19.1 },
    series : [
        { data : a03, color : "#cfcfcf" },
        { data : a10, color : "#adadad", dash : "4,4" },
        { data : a5, color : "#8a8a8a" },
        { data : a50, color : "#000", width : 1.5, jagged : true }
    ]
});

chart.drawPanel({
    id : "b", title : "B: Compression ratio",
    top : 346, bottom : 510, yDomain : [-8.14, 4.98],
    ticks : bTicks, tickLabels : bTickLabels, labels : bLabels, ref : true,
    legend : { x : 506.7, y : 413.3, lineX0 : 520.7, textX : 565, row0 : 434, step : 19.2 },
    series : [
        { data : b04, color : "#cccccc" },
        { data : b06, color : "#9a9a9a" },
        { data : b08, color : "#444", dash : "4,4" },
        { data : b09, color : "#000", width : 1.5 }
    ]
});

chart.drawPanel({
    id : "c", title : "C: Wave speed",
    top : 647.3, bottom : 810.7, yDomain : [-10.61, 7.74],
    ticks : cTicks, tickLabels : cTickLabels, labels : cLabels, ref : false,
    legend : { x : 498.3, y : 695, lineX0 : 511.7, textX : 552.3, row0 : 715, step : 19.4 },
    series : [
        { data : c60, color : "#d0d0d0" },
        { data : c375, color : "#a3a3a3" },
        { data : c30, color : "#777", dash : "4,4" },
        { data : c214, color : "#555" },
        { data : c167, color : "#000", width : 1.5 }
    ]
});
</script>
</body>
</html>
